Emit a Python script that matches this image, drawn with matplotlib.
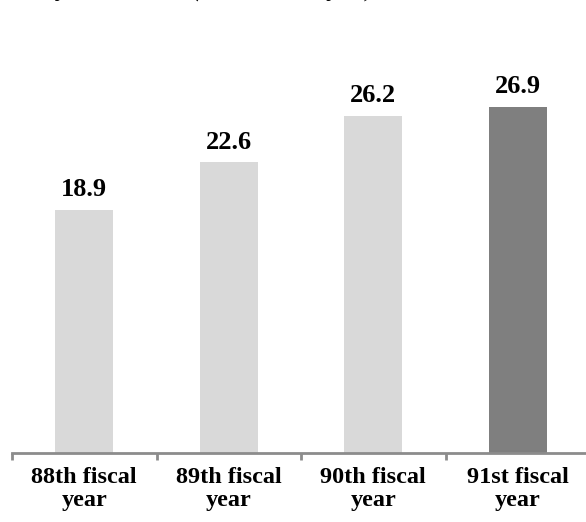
import matplotlib
matplotlib.use("Agg")
import matplotlib.pyplot as plt

# values in 100 million yen
years = ["88th fiscal\nyear", "89th fiscal\nyear", "90th fiscal\nyear", "91st fiscal\nyear"]
values = [18.9, 22.6, 26.2, 26.9]
colors = ["#d9d9d9", "#d9d9d9", "#d9d9d9", "#7f7f7f"]
title = "Salary and bonus (100 million yen)"

plt.rcParams["font.family"] = ["Liberation Serif", "DejaVu Serif"]

fig = plt.figure(figsize=(5.86, 5.22), dpi=100)
ax = fig.add_axes([12 / 586, 69 / 522, 578 / 586, 453 / 522])

x = range(len(values))
bars = ax.bar(x, values, width=0.40, color=colors, edgecolor="none")

for b, v in zip(bars, values):
    ax.annotate("%.1f" % v, (b.get_x() + b.get_width() / 2, v),
                xytext=(0, 6), textcoords="offset points",
                ha="center", va="bottom", fontsize=19, fontweight="bold")

ax.set_xlim(-0.5, 3.5)
ax.set_ylim(0, 453 / 12.87)

for s in ["top", "right", "left"]:
    ax.spines[s].set_visible(False)
ax.spines["bottom"].set_color("#8c8c8c")
ax.spines["bottom"].set_linewidth(2)
ax.set_yticks([])

# category boundaries carry the ticks, labels sit between them
ax.set_xticks([-0.5, 0.5, 1.5, 2.5, 3.5])
ax.set_xticklabels([])
ax.tick_params(axis="x", which="major", length=5, width=2, color="#8c8c8c", direction="out")
ax.set_xticks(list(x), minor=True)
ax.set_xticklabels(years, minor=True, fontsize=17.5, fontweight="bold", linespacing=1.15)
ax.tick_params(axis="x", which="minor", length=0, pad=10)

fig.text(0.0, 1 + 3 / 522, title, fontsize=19, style="italic", va="baseline", ha="left")

fig.savefig("out.png", dpi=100)
